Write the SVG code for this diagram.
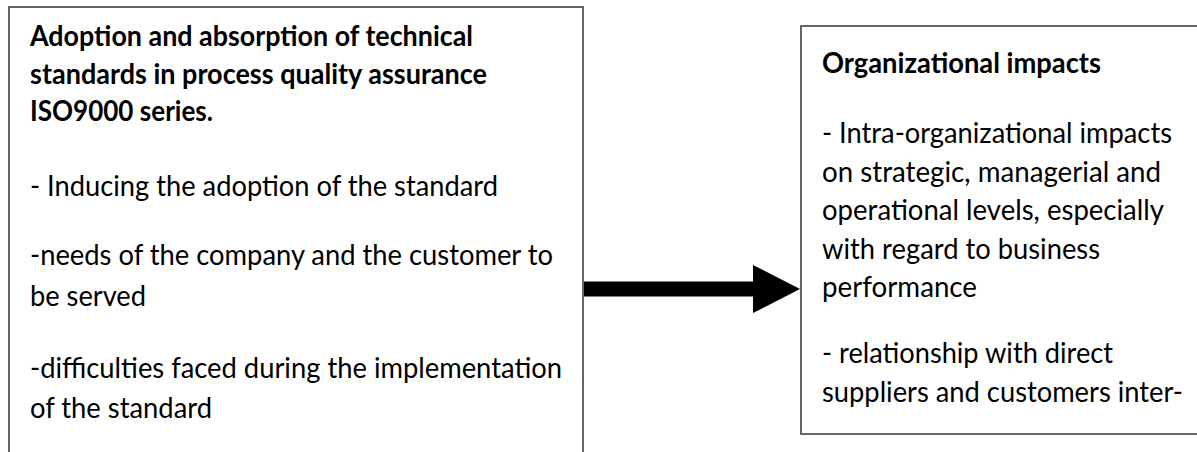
<svg xmlns="http://www.w3.org/2000/svg" width="1197" height="452" viewBox="0 0 1197 452">
  <style>
    .box { fill: #ffffff; stroke: #404040; stroke-width: 1.6; }
    .txt { font-family: Lato, "Liberation Sans", sans-serif; font-size: 29px; fill: #000000; }
    .bold { font-weight: bold; font-size: 28.7px; }
    .arrow { fill: #000000; stroke: none; }
  </style>
  <rect x="0" y="0" width="1197" height="452" fill="#ffffff"/>

  <!-- Left node: adoption of standards -->
  <g id="node-adoption">
    <rect class="box" x="9" y="7" width="574" height="460"/>
    <text class="txt bold" x="30" y="46" textLength="443" lengthAdjust="spacingAndGlyphs">Adoption and absorption of technical</text>
    <text class="txt bold" x="30" y="83.5" textLength="457" lengthAdjust="spacingAndGlyphs">standards in process quality assurance</text>
    <text class="txt bold" x="30" y="121" textLength="183" lengthAdjust="spacingAndGlyphs">ISO9000 series.</text>
    <text class="txt" x="30" y="196" textLength="468" lengthAdjust="spacingAndGlyphs">- Inducing the adoption of the standard</text>
    <text class="txt" x="30" y="265" textLength="523" lengthAdjust="spacingAndGlyphs">-needs of the company and the customer to</text>
    <text class="txt" x="30" y="306" textLength="116" lengthAdjust="spacingAndGlyphs">be served</text>
    <text class="txt" x="30" y="378" textLength="532" lengthAdjust="spacingAndGlyphs">-difficulties faced during the implementation</text>
    <text class="txt" x="30" y="418" textLength="182" lengthAdjust="spacingAndGlyphs">of the standard</text>
  </g>

  <!-- Right node: organizational impacts (runs past the right edge) -->
  <g id="node-impacts">
    <rect class="box" x="801" y="26" width="420" height="408"/>
    <text class="txt bold" x="822" y="73" textLength="279" lengthAdjust="spacingAndGlyphs">Organizational impacts</text>
    <text class="txt" x="822" y="143" textLength="350" lengthAdjust="spacingAndGlyphs">- Intra-organizational impacts</text>
    <text class="txt" x="822" y="181.5" textLength="339" lengthAdjust="spacingAndGlyphs">on strategic, managerial and</text>
    <text class="txt" x="822" y="220" textLength="342" lengthAdjust="spacingAndGlyphs">operational levels, especially</text>
    <text class="txt" x="822" y="258.5" textLength="278" lengthAdjust="spacingAndGlyphs">with regard to business</text>
    <text class="txt" x="822" y="297" textLength="155" lengthAdjust="spacingAndGlyphs">performance</text>
    <text class="txt" x="822" y="363" textLength="291" lengthAdjust="spacingAndGlyphs">- relationship with direct</text>
    <text class="txt" x="822" y="402" textLength="361" lengthAdjust="spacingAndGlyphs">suppliers and customers inter-</text>
  </g>

  <!-- Connector: thick block arrow from left node to right node -->
  <g id="connectors">
    <polygon class="arrow" points="584,281.5 753,281.5 753,265 800,289 753,313 753,296.5 584,296.5"/>
  </g>
</svg>
